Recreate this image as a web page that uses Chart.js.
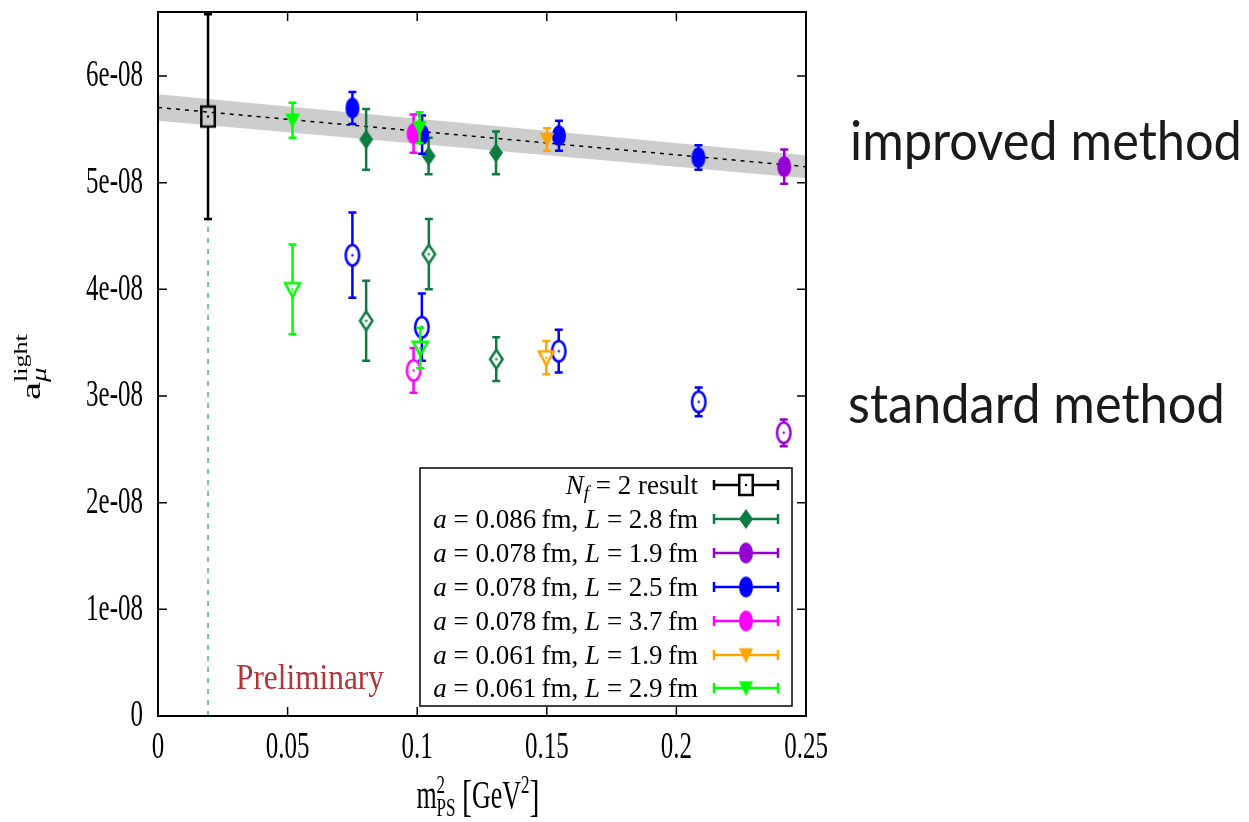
<!DOCTYPE html>
<html><head><meta charset="utf-8">
<script src="https://cdn.jsdelivr.net/npm/chart.js"></script>
<style>html,body{margin:0;padding:0;background:#fff;overflow:hidden}</style>
</head><body>
<canvas id="c" width="1249" height="822"></canvas>
<script>
// ---------------- data ----------------
const xTicks = [0, 0.05, 0.1, 0.15, 0.2, 0.25];
const xTickLabels = ['0', '0.05', '0.1', '0.15', '0.2', '0.25'];
const yTicks = [0, 1e-8, 2e-8, 3e-8, 4e-8, 5e-8, 6e-8];
const yTickLabels = ['0', '1e-08', '2e-08', '3e-08', '4e-08', '5e-08', '6e-08'];

// N_f = 2 result
const nf2X = [0.0193];
const nf2Y = [5.62e-8];
const nf2Err = [0.96e-8];

// linear fit band
const fitX = [0, 0.25];
const fitY = [5.705e-8, 5.15e-8];
const fitErr = [0.124e-8, 0.108e-8];

const legendA = ['0.086', '0.078', '0.078', '0.078', '0.061', '0.061'];
const legendL = ['2.8', '1.9', '2.5', '3.7', '1.9', '2.9'];

// a=0.086 fm, L=2.8 fm
const s1ImpX = [0.0803, 0.1044, 0.1304], s1ImpY = [5.405e-8, 5.25e-8, 5.28e-8], s1ImpErr = [0.285e-8, 0.17e-8, 0.20e-8];
const s1StdX = [0.0803, 0.1045, 0.1305], s1StdY = [3.705e-8, 4.33e-8, 3.345e-8], s1StdErr = [0.375e-8, 0.33e-8, 0.205e-8];
// a=0.078 fm, L=1.9 fm
const s2ImpX = [0.2416], s2ImpY = [5.15e-8], s2ImpErr = [0.16e-8];
const s2StdX = [0.2414], s2StdY = [2.655e-8], s2StdErr = [0.125e-8];
// a=0.078 fm, L=2.5 fm
const s3ImpX = [0.0750, 0.1019, 0.1547, 0.2085], s3ImpY = [5.70e-8, 5.45e-8, 5.44e-8, 5.235e-8], s3ImpErr = [0.15e-8, 0.18e-8, 0.14e-8, 0.115e-8];
const s3StdX = [0.0750, 0.1018, 0.1546, 0.2086], s3StdY = [4.32e-8, 3.645e-8, 3.42e-8, 2.945e-8], s3StdErr = [0.40e-8, 0.315e-8, 0.20e-8, 0.135e-8];
// a=0.078 fm, L=3.7 fm
const s4ImpX = [0.0986], s4ImpY = [5.46e-8], s4ImpErr = [0.18e-8];
const s4StdX = [0.0986], s4StdY = [3.24e-8], s4StdErr = [0.21e-8];
// a=0.061 fm, L=1.9 fm
const s5ImpX = [0.1501], s5ImpY = [5.405e-8], s5ImpErr = [0.105e-8];
const s5StdX = [0.1498], s5StdY = [3.36e-8], s5StdErr = [0.155e-8];
// a=0.061 fm, L=2.9 fm
const s6ImpX = [0.0519, 0.1009], s6ImpY = [5.585e-8, 5.515e-8], s6ImpErr = [0.165e-8, 0.145e-8];
const s6StdX = [0.0519, 0.1012], s6StdY = [4.00e-8, 3.45e-8], s6StdErr = [0.42e-8, 0.19e-8];

const seriesColors = ['#0b7b41', '#9400d3', '#0000ff', '#ff00ff', '#ffa500', '#00ff00'];
const seriesShapes = ['diamond', 'ellipse', 'ellipse', 'ellipse', 'tri', 'tri'];

// ---------------- markers ----------------
const SIZES = {
  ellipse: { f: [14, 21], o: [13.5, 20.5] },
  diamond: { f: [14, 20], o: [12.5, 19] },
  tri:     { f: [14.5, 15], o: [15, 14] },
  square:  { f: [14, 20], o: [13.5, 20] }
};
function marker(shape, filled, color) {
  const [w, h] = SIZES[shape][filled ? 'f' : 'o'];
  const pad = 3;
  const c = document.createElement('canvas');
  c.width = Math.ceil(w + 2 * pad); c.height = Math.ceil(h + 2 * pad);
  const g = c.getContext('2d');
  const cx = c.width / 2, cy = c.height / 2;
  g.beginPath();
  if (shape === 'ellipse') g.ellipse(cx, cy, w / 2, h / 2, 0, 0, Math.PI * 2);
  else if (shape === 'diamond') { g.moveTo(cx, cy - h / 2); g.lineTo(cx + w / 2, cy); g.lineTo(cx, cy + h / 2); g.lineTo(cx - w / 2, cy); g.closePath(); }
  else if (shape === 'tri') { g.moveTo(cx - w / 2, cy - 0.45 * h); g.lineTo(cx + w / 2, cy - 0.45 * h); g.lineTo(cx, cy + 0.55 * h); g.closePath(); }
  else if (shape === 'square') { g.rect(cx - w / 2, cy - h / 2, w, h); }
  if (filled) { g.fillStyle = color; g.fill(); }
  else {
    g.strokeStyle = color; g.lineWidth = 2.5; g.stroke();
    g.beginPath(); g.arc(cx, cy, 1.2, 0, Math.PI * 2); g.fillStyle = color; g.fill();
  }
  c._gapTop = filled ? 0 : (shape === 'tri' ? 0.45 * h : h / 2);
  c._gapBot = filled ? 0 : (shape === 'tri' ? 0.55 * h : h / 2);
  c._gapX = filled ? 0 : w / 2;
  return c;
}

function pts(xs, ys) { return xs.map((x, i) => ({ x: x, y: ys[i] })); }

const datasets = [];
datasets.push({ type: 'line', label: 'fit lower', data: pts(fitX, fitY.map((v, i) => v - fitErr[i])), borderWidth: 0, pointRadius: 0, fill: false, tension: 0 });
datasets.push({ type: 'line', label: 'fit upper', data: pts(fitX, fitY.map((v, i) => v + fitErr[i])), borderWidth: 0, pointRadius: 0, fill: '-1', backgroundColor: '#cdcdcd', tension: 0 });
datasets.push({ type: 'line', label: 'fit', data: pts(fitX, fitY), borderColor: '#000', borderWidth: 1.5, borderDash: [4, 5], pointRadius: 0, fill: false, tension: 0 });
datasets.push({ type: 'line', label: 'chiral point', data: [{ x: nf2X[0], y: 0 }, { x: nf2X[0], y: nf2Y[0] - nf2Err[0] }], borderColor: '#56a883', borderWidth: 1.5, borderDash: [5, 6], pointRadius: 0, fill: false, tension: 0 });

const nf2Marker = marker('square', false, '#000');
datasets.push({ label: 'N_f = 2 result', data: pts(nf2X, nf2Y), errors: nf2Err, errColor: '#000', mk: nf2Marker, pointStyle: nf2Marker, pointRadius: 8 });

const impX = [s1ImpX, s2ImpX, s3ImpX, s4ImpX, s5ImpX, s6ImpX];
const impY = [s1ImpY, s2ImpY, s3ImpY, s4ImpY, s5ImpY, s6ImpY];
const impE = [s1ImpErr, s2ImpErr, s3ImpErr, s4ImpErr, s5ImpErr, s6ImpErr];
const stdX = [s1StdX, s2StdX, s3StdX, s4StdX, s5StdX, s6StdX];
const stdY = [s1StdY, s2StdY, s3StdY, s4StdY, s5StdY, s6StdY];
const stdE = [s1StdErr, s2StdErr, s3StdErr, s4StdErr, s5StdErr, s6StdErr];
const legendMarkers = [];
for (let i = 0; i < 6; i++) {
  const lab = 'a = ' + legendA[i] + ' fm, L = ' + legendL[i] + ' fm';
  const mf = marker(seriesShapes[i], true, seriesColors[i]);
  const mo = marker(seriesShapes[i], false, seriesColors[i]);
  legendMarkers.push(mf);
  datasets.push({ label: lab + ' (improved)', data: pts(impX[i], impY[i]), errors: impE[i], errColor: seriesColors[i], mk: mf, pointStyle: mf, pointRadius: 8 });
  datasets.push({ label: lab + ' (standard)', data: pts(stdX[i], stdY[i]), errors: stdE[i], errColor: seriesColors[i], mk: mo, pointStyle: mo, pointRadius: 8 });
}
datasets.forEach((d, i) => { d.order = 100 - i; });

// ---------------- helpers ----------------
function drawRich(ctx, segs, x, y, align, family, color) {
  let cur = 0, lastStart = 0; const items = [];
  for (const s of segs) {
    ctx.font = (s.it ? 'italic ' : '') + s.size + 'px ' + family;
    const w = ctx.measureText(s.t).width;
    const sx = s.stack ? lastStart : cur;
    items.push({ t: s.t, font: ctx.font, sx: sx, dy: s.dy || 0 });
    if (s.stack) cur = Math.max(cur, sx + w); else { lastStart = sx; cur = sx + w; }
  }
  const ox = align === 'right' ? x - cur : align === 'center' ? x - cur / 2 : x;
  ctx.save(); ctx.fillStyle = color; ctx.textBaseline = 'alphabetic'; ctx.textAlign = 'left';
  for (const it of items) { ctx.font = it.font; ctx.fillText(it.t, ox + it.sx, y + it.dy); }
  ctx.restore();
  return cur;
}
function stretchText(ctx, text, x, y, font, align, baseline, vs, color) {
  ctx.save(); ctx.translate(x, y); ctx.scale(1, vs);
  ctx.font = font; ctx.textAlign = align; ctx.textBaseline = baseline; ctx.fillStyle = color;
  ctx.fillText(text, 0, 0); ctx.restore();
}

// ---------------- plugins ----------------
const errPlugin = {
  id: 'errbars',
  beforeDatasetDraw(chart, args) {
    const ds = chart.data.datasets[args.index];
    if (!ds.errors) return;
    const ys = chart.scales.y, ctx = chart.ctx;
    const mk = ds.mk, cap = 4;
    ctx.save(); ctx.strokeStyle = ds.errColor; ctx.lineWidth = 2.5; ctx.lineCap = 'butt';
    args.meta.data.forEach((pt, i) => {
      const v = ds.data[i].y, e = ds.errors[i];
      const yt = ys.getPixelForValue(v + e), yb = ys.getPixelForValue(v - e);
      const x = pt.x, y = pt.y;
      ctx.beginPath();
      if (yt < y - mk._gapTop) { ctx.moveTo(x, yt); ctx.lineTo(x, y - mk._gapTop); }
      if (yb > y + mk._gapBot) { ctx.moveTo(x, y + mk._gapBot); ctx.lineTo(x, yb); }
      ctx.moveTo(x - cap, yt); ctx.lineTo(x + cap, yt);
      ctx.moveTo(x - cap, yb); ctx.lineTo(x + cap, yb);
      ctx.stroke();
    });
    ctx.restore();
  }
};

const decorPlugin = {
  id: 'decor',
  afterDraw(chart) {
    const ctx = chart.ctx, a = chart.chartArea, xs = chart.scales.x, ys = chart.scales.y;
    const SERIF = '"Liberation Serif", "DejaVu Serif", serif';
    // frame
    ctx.save();
    ctx.strokeStyle = '#000'; ctx.lineWidth = 2;
    ctx.strokeRect(a.left, a.top, a.right - a.left, a.bottom - a.top);
    ctx.lineWidth = 1.5;
    ctx.beginPath();
    const T = 9;
    xTicks.forEach(v => { const px = xs.getPixelForValue(v); ctx.moveTo(px, a.bottom); ctx.lineTo(px, a.bottom - T); ctx.moveTo(px, a.top); ctx.lineTo(px, a.top + T); });
    yTicks.forEach(v => { const py = ys.getPixelForValue(v); ctx.moveTo(a.left, py); ctx.lineTo(a.left + T, py); ctx.moveTo(a.right, py); ctx.lineTo(a.right - T, py); });
    ctx.stroke();
    ctx.restore();
    // tick labels
    yTicks.forEach((v, i) => stretchText(ctx, yTickLabels[i], 143, ys.getPixelForValue(v), '25px ' + SERIF, 'right', 'middle', 1.55, '#000'));
    xTicks.forEach((v, i) => stretchText(ctx, xTickLabels[i], xs.getPixelForValue(v), 748.5, '25px ' + SERIF, 'center', 'middle', 1.5, '#000'));
    // x title
    ctx.save(); ctx.translate(478, 808); ctx.scale(1, 1.5);
    drawRich(ctx, [
      { t: 'm', size: 26 }, { t: '2', size: 17, dy: -10 }, { t: 'PS', size: 17, dy: 5, stack: true },
      { t: ' ', size: 26 }, { t: '[', size: 30, dy: 2 }, { t: 'GeV', size: 26 }, { t: '2', size: 17, dy: -10 }, { t: ']', size: 30, dy: 2 }
    ], 0, 0, 'center', SERIF, '#000');
    ctx.restore();
    // y title
    ctx.save(); ctx.translate(40, 400); ctx.rotate(-Math.PI / 2); ctx.scale(1.45, 1);
    drawRich(ctx, [
      { t: 'a', size: 28 }, { t: 'light', size: 18, dy: -13 }, { t: 'μ', size: 20, it: true, dy: 6, stack: true }
    ], 0, 0, 'left', SERIF, '#000');
    ctx.restore();
    // Preliminary
    ctx.save();
    ctx.font = '100px ' + SERIF;
    let w = ctx.measureText('Preliminary').width;
    const pfs = 100 * 148 / w;
    ctx.font = pfs + 'px ' + SERIF;
    const capH = ctx.measureText('P').actualBoundingBoxAscent;
    ctx.restore();
    stretchText(ctx, 'Preliminary', 236, 689, pfs + 'px ' + SERIF, 'left', 'alphabetic', 24 / capH, '#b0343c');
    // legend
    ctx.save();
    ctx.strokeStyle = '#000'; ctx.lineWidth = 1.5;
    ctx.strokeRect(420, 468, 372, 238);
    ctx.restore();
    const rowYs = [485, 519, 553, 587, 621, 655, 688];
    const legendRow = (rowY, segs, color, mk) => {
      drawRich(ctx, segs, 698, rowY + 8.5, 'right', SERIF, '#000');
      ctx.save(); ctx.strokeStyle = color; ctx.lineWidth = 2.5;
      ctx.beginPath();
      const g = mk._gapX;
      if (g) { ctx.moveTo(714, rowY); ctx.lineTo(746 - g, rowY); ctx.moveTo(746 + g, rowY); ctx.lineTo(778, rowY); }
      else { ctx.moveTo(714, rowY); ctx.lineTo(778, rowY); }
      ctx.moveTo(714, rowY - 5); ctx.lineTo(714, rowY + 5); ctx.moveTo(778, rowY - 5); ctx.lineTo(778, rowY + 5);
      ctx.stroke(); ctx.restore();
      ctx.drawImage(mk, 746 - mk.width / 2, rowY - mk.height / 2);
    };
    legendRow(rowYs[0], [{ t: 'N', it: true, size: 27 }, { t: 'f', it: true, size: 19, dy: 5 }, { t: ' = 2 result', size: 27 }], '#000', nf2Marker);
    for (let i = 0; i < 6; i++) {
      legendRow(rowYs[i + 1], [
        { t: 'a', it: true, size: 27 }, { t: ' = ' + legendA[i] + '\u2009fm, ', size: 27 },
        { t: 'L', it: true, size: 27 }, { t: ' = ' + legendL[i] + '\u2009fm', size: 27 }
      ], seriesColors[i], legendMarkers[i]);
    }
    // right-hand labels
    const SANS = 'Lato, "Open Sans", sans-serif';
    ctx.save();
    ctx.font = '100px ' + SANS;
    w = ctx.measureText('improved method').width;
    const rfs = 100 * 392 / w;
    ctx.font = rfs + 'px ' + SANS;
    const xh = ctx.measureText('x').actualBoundingBoxAscent;
    ctx.restore();
    stretchText(ctx, 'improved method', 850, 160, rfs + 'px ' + SANS, 'left', 'alphabetic', 28 / xh, '#1a1a1a');
    stretchText(ctx, 'standard method', 848, 423, rfs + 'px ' + SANS, 'left', 'alphabetic', 28 / xh, '#1a1a1a');
  }
};

new Chart(document.getElementById('c'), {
  type: 'scatter',
  data: { datasets: datasets },
  options: {
    responsive: false,
    animation: false,
    events: [],
    layout: { padding: { left: 158, right: 443, top: 12, bottom: 106 } },
    plugins: { legend: { display: false }, tooltip: { enabled: false } },
    scales: {
      x: { type: 'linear', min: 0, max: 0.25, display: false },
      y: { type: 'linear', min: 0, max: 6.6e-8, display: false }
    }
  },
  plugins: [errPlugin, decorPlugin]
});
</script>
</body></html>
